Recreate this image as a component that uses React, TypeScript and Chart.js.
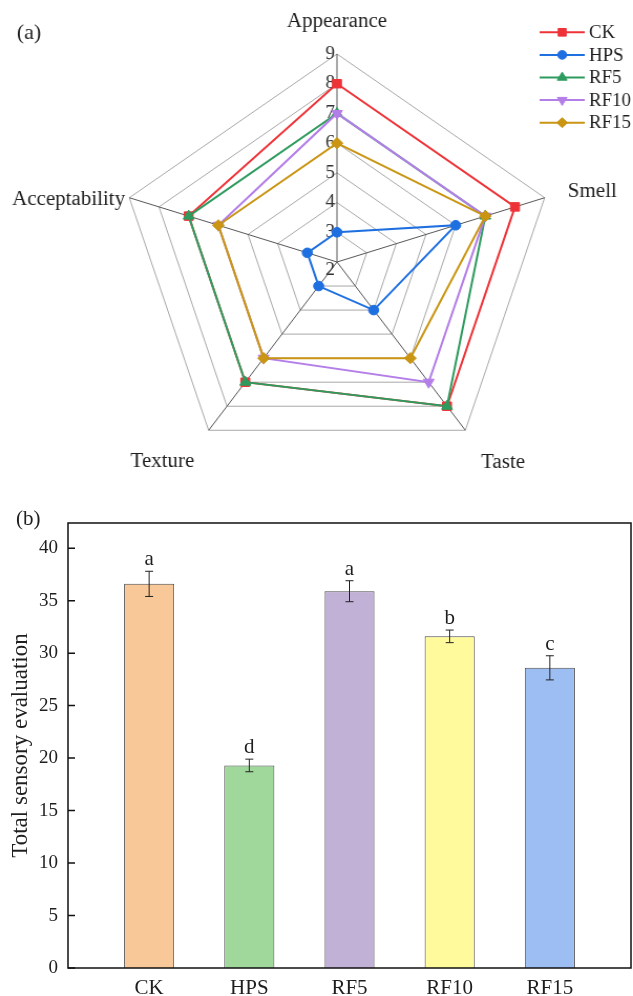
import React, { useEffect, useRef } from 'react';
import { Chart, registerables } from 'chart.js';
import { drawPoint } from 'chart.js/helpers';

Chart.register(...registerables);

// ---------- data ----------
const radarAxes = ['Appearance', 'Smell', 'Taste', 'Texture', 'Acceptability'];
const seriesNames = ['CK', 'HPS', 'RF5', 'RF10', 'RF15'];
const ckScores = [8, 8, 8, 7, 7];
const hpsScores = [3, 6, 4, 3, 3];
const rf5Scores = [7, 7, 8, 7, 7];
const rf10Scores = [7, 7, 7, 6, 6];
const rf15Scores = [6, 7, 6, 6, 6];
const radarTicks = [2, 3, 4, 5, 6, 7, 8, 9];

const barCategories = ['CK', 'HPS', 'RF5', 'RF10', 'RF15'];
const totalScores = [36.6, 19.3, 35.9, 31.6, 28.6];
const totalErrors = [1.2, 0.6, 1.0, 0.6, 1.15];
const sigLetters = ['a', 'd', 'a', 'b', 'c'];
const barTicks = [0, 5, 10, 15, 20, 25, 30, 35, 40];

// ---------- styles ----------
const SERIF = '"Times New Roman", "Liberation Serif", serif';
const TEXT = '#1e1e1e';
const seriesColors = ['#EE3338', '#1E6FE0', '#2E9B5E', '#B47EE8', '#C99512'];
const seriesStyles = ['rect', 'circle', 'triangle', 'triangle', 'rectRot'];
const seriesRotations = [0, 0, 0, 180, 0];
const seriesRadii = [6, 4.8, 6, 6, 5.6];
const barColors = ['#F9C898', '#A0D89B', '#C2B1D7', '#FFFB9C', '#9DBEF2'];

// label placement relative to outer vertex (pixels)
const labelOffsets = [
  { dx: 0, dy: -32, align: 'center' },
  { dx: 22, dy: -6, align: 'left' },
  { dx: 36, dy: 32, align: 'center' },
  { dx: -44, dy: 31, align: 'center' },
  { dx: -4, dy: 2, align: 'right' },
];

const radarDecor = {
  id: 'radarDecor',
  beforeDatasetsDraw(chart: any) {
    const ctx = chart.ctx;
    const scale = chart.scales.r;
    ctx.save();
    ctx.font = `18px ${SERIF}`;
    ctx.fillStyle = '#333';
    ctx.textAlign = 'right';
    ctx.textBaseline = 'middle';
    radarTicks.forEach((v) => {
      const p = scale.getPointPositionForValue(0, v);
      ctx.fillText(String(v), p.x - 2, p.y + (v === radarTicks[0] ? 8 : 0));
    });
    ctx.restore();
  },
  afterDraw(chart: any) {
    const ctx = chart.ctx;
    const scale = chart.scales.r;
    const outer = radarTicks[radarTicks.length - 1];
    ctx.save();
    // axis labels
    ctx.font = `20px ${SERIF}`;
    ctx.fillStyle = TEXT;
    ctx.textBaseline = 'middle';
    radarAxes.forEach((name, i) => {
      const p = scale.getPointPositionForValue(i, outer);
      const o = labelOffsets[i];
      ctx.textAlign = o.align;
      ctx.fillText(name, p.x + o.dx, p.y + o.dy);
    });
    // panel tag
    ctx.font = `21px ${SERIF}`;
    ctx.textAlign = 'left';
    ctx.fillText('(a)', 16, 33);
    // legend
    ctx.font = `18px ${SERIF}`;
    seriesNames.forEach((name, i) => {
      const y = 32.3 + i * 22.6;
      ctx.strokeStyle = seriesColors[i];
      ctx.fillStyle = seriesColors[i];
      ctx.lineWidth = 2;
      ctx.beginPath();
      ctx.moveTo(514, y);
      ctx.lineTo(557, y);
      ctx.stroke();
      ctx.lineWidth = 1;
      drawPoint(ctx, {
        pointStyle: seriesStyles[i],
        rotation: seriesRotations[i],
        radius: seriesRadii[i] * 0.9,
        borderWidth: 1,
      }, 535.5, y);
      ctx.fillStyle = TEXT;
      ctx.textAlign = 'left';
      ctx.fillText(name, 561, y + 1);
    });
    ctx.restore();
  },
};

const barDecor = {
  id: 'barDecor',
  afterDatasetsDraw(chart: any) {
    const ctx = chart.ctx;
    const xs = chart.scales.x;
    const ys = chart.scales.y;
    const area = chart.chartArea;
    ctx.save();
    // error bars + letters
    ctx.strokeStyle = '#222';
    ctx.lineWidth = 1;
    ctx.font = `21px ${SERIF}`;
    ctx.fillStyle = TEXT;
    ctx.textAlign = 'center';
    ctx.textBaseline = 'alphabetic';
    totalScores.forEach((v, i) => {
      const x = xs.getPixelForValue(i + 1);
      const yTop = ys.getPixelForValue(v + totalErrors[i]);
      const yBot = ys.getPixelForValue(v - totalErrors[i]);
      ctx.beginPath();
      ctx.moveTo(x, yTop);
      ctx.lineTo(x, yBot);
      ctx.moveTo(x - 4, yTop);
      ctx.lineTo(x + 4, yTop);
      ctx.moveTo(x - 4, yBot);
      ctx.lineTo(x + 4, yBot);
      ctx.stroke();
      ctx.fillText(sigLetters[i], x, yTop - 6);
    });
    // frame
    ctx.strokeStyle = '#111';
    ctx.lineWidth = 1.5;
    ctx.strokeRect(area.left, area.top, area.right - area.left, area.bottom - area.top);
    // inward ticks
    ctx.beginPath();
    barTicks.forEach((v) => {
      const y = ys.getPixelForValue(v);
      ctx.moveTo(area.left, y);
      ctx.lineTo(area.left + 7, y);
    });
    ctx.stroke();
    // panel tag
    ctx.textAlign = 'left';
    ctx.textBaseline = 'middle';
    ctx.fillText('(b)', 16, 29);
    ctx.restore();
  },
};

function RadarPanel() {
  const ref = useRef<HTMLCanvasElement>(null);
  useEffect(() => {
    const allScores = [ckScores, hpsScores, rf5Scores, rf10Scores, rf15Scores];
    const chart = new Chart(ref.current!, {
      type: 'radar',
      data: {
        labels: radarAxes,
        datasets: seriesNames.map((name, i) => ({
          label: name,
          data: allScores[i],
          borderColor: seriesColors[i],
          backgroundColor: seriesColors[i],
          borderWidth: 2,
          fill: false,
          tension: 0,
          pointStyle: seriesStyles[i],
          pointRotation: seriesRotations[i],
          pointRadius: seriesRadii[i],
          pointBackgroundColor: seriesColors[i],
          pointBorderColor: seriesColors[i],
          pointBorderWidth: 1,
          order: seriesNames.length - i,
        })),
      },
      options: {
        responsive: false,
        animation: false,
        layout: { padding: { left: 113, top: 54, right: 74, bottom: 20 } },
        plugins: { legend: { display: false }, tooltip: { enabled: false } },
        scales: {
          r: {
            min: radarTicks[0],
            max: radarTicks[radarTicks.length - 1],
            ticks: { display: false, stepSize: 1 },
            pointLabels: { display: false },
            grid: { color: '#A8A8A8', lineWidth: 1 },
            angleLines: { color: '#555', lineWidth: 1 },
          },
        },
      },
      plugins: [radarDecor],
    });
    return () => chart.destroy();
  }, []);
  return (
    <canvas
      ref={ref}
      width={603}
      height={490}
      style={{ position: 'absolute', left: 0, top: 0, transform: 'scaleX(1.0498)', transformOrigin: '0 0' }}
    />
  );
}

function BarPanel() {
  const ref = useRef<HTMLCanvasElement>(null);
  useEffect(() => {
    const chart = new Chart(ref.current!, {
      type: 'bar',
      data: {
        datasets: [
          {
            label: 'Total',
            data: barCategories.map((c, i) => ({ x: i + 1, y: totalScores[i] })),
            backgroundColor: barColors,
            borderColor: '#4a4a4a',
            borderWidth: 1,
            barPercentage: 0.5,
            categoryPercentage: 1,
          },
        ],
      },
      options: {
        responsive: false,
        animation: false,
        layout: { padding: { top: 33, right: 2, left: 0, bottom: 0 } },
        plugins: { legend: { display: false }, tooltip: { enabled: false } },
        scales: {
          x: {
            type: 'linear',
            min: 0.19,
            max: 5.81,
            offset: false,
            grid: { display: false, drawTicks: false, offset: false },
            border: { display: false },
            ticks: {
              stepSize: 1,
              includeBounds: false,
              padding: 8,
              color: TEXT,
              font: { family: SERIF, size: 21 },
              maxRotation: 0,
              autoSkip: false,
              callback: (v: any) => barCategories[Math.round(v) - 1] ?? '',
            },
            afterBuildTicks: (s: any) => {
              s.ticks = barCategories.map((c, i) => ({ value: i + 1 }));
            },
            afterFit: (s: any) => {
              s.height = 28;
            },
          },
          y: {
            min: 0,
            max: 42.4,
            grid: { display: false, drawTicks: false },
            border: { display: false },
            ticks: {
              stepSize: 5,
              includeBounds: false,
              padding: 10,
              color: TEXT,
              font: { family: SERIF, size: 19 },
            },
            afterBuildTicks: (s: any) => {
              s.ticks = barTicks.map((v) => ({ value: v }));
            },
            title: {
              display: true,
              text: 'Total sensory evaluation',
              color: TEXT,
              font: { family: SERIF, size: 23 },
              padding: { top: 7, bottom: 0 },
            },
            afterFit: (s: any) => {
              s.width = 68;
            },
          },
        },
      },
      plugins: [barDecor],
    });
    return () => chart.destroy();
  }, []);
  return (
    <canvas ref={ref} width={633} height={506} style={{ position: 'absolute', left: 0, top: 490 }} />
  );
}

export default function App() {
  return (
    <div style={{ position: 'absolute', left: 0, top: 0, width: 633, height: 996, background: '#fff', overflow: 'hidden' }}>
      <RadarPanel />
      <BarPanel />
    </div>
  );
}
